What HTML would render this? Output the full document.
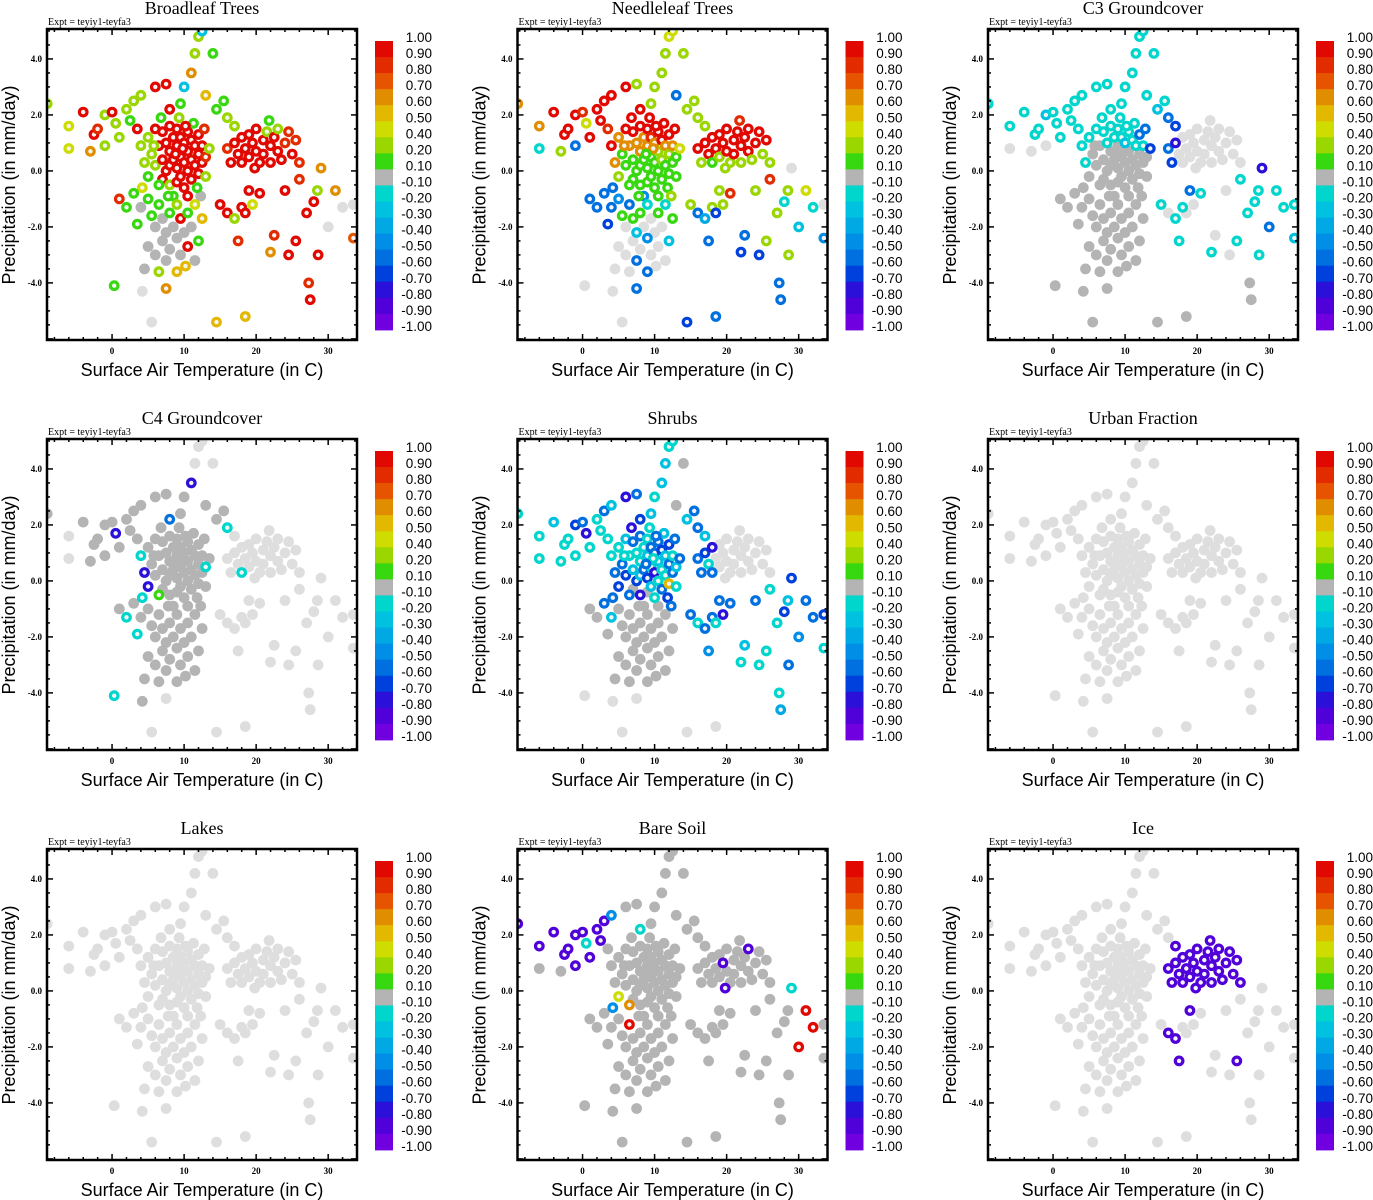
<!DOCTYPE html>
<html><head><meta charset="utf-8">
<style>
html,body{margin:0;padding:0;background:#fff;}
svg{display:block;}
</style></head>
<body>
<svg id="chart" width="1373" height="1200" xmlns="http://www.w3.org/2000/svg"></svg>
<script>
const N = null;
// shared sample locations: temperature (C) and precipitation (mm/day)
const temps = [
5,5.5,6,6,6.5,7,7,7,7.5,7.5, 8,8,8,8,8.5,8.5,9,9,9,9, 9.5,9.5,9.5,10,10,10,10.5,10.5,10.5,11, 11,11,11.5,11.5,12,12,12,12.5,12.5,13, 13,4.5,4,6.5,5,13.5,8.5,10.5,3.5,6.8, 9.3,11.3,4.2,12.8,7.8,5.8,10.2,11.8,9.8,8.8,
16,16.5,17,17.5,18,18,18.5,19,19,19.5, 20,20,20.5,21,21,21.5,22,22,22.5,23, 23,23.5,24,24.5,25,25.5,26,17,21.8,19.8,
3,4,5,5.5,6,6.5,7,7,7.5,8, 8,8.5,9,9,9.5,9.5,10,10.5,10.5,11, 11.5,11.5,12,12.5,6,5,4.5,7.5,9,3.5, 2,10.2,12.3,1,6.5,
-9,-6,-6,-4,-2.5,-2,-1,0,-1,0.5, 1,2,3,4,2.5,6,7.5,9.5,10,11, 11.5,12,12.5,14,13,14.5,15.5,16,-3,8,
15,16,17,17.5,18,18.5,19,19.5,20.5,22, 22.5,24,24.5,25.5,26,27,27.3,27.5,28,28.5, 28.6,29,30,31,32,33.5,33.5,18.5,14.5,5.5, 0.3,4.2,7.5
];
const precips = [
1.2,0.6,1.5,0.2,0.9,1.4,0.4,-0.3,1.0,0.0, 1.6,0.7,0.2,-0.5,1.2,0.4,1.5,0.9,0.1,-0.4, 1.2,0.5,-0.2,1.0,0.3,-0.6,1.4,0.7,0.0,1.1, 0.4,-0.3,0.9,0.2,1.3,0.6,-0.1,0.9,0.3,0.5, -0.2,0.3,0.9,-0.5,-0.2,0.8,-0.9,-0.9,1.5,1.9, 1.9,1.7,-0.6,1.5,-0.9,0.9,1.6,-0.6,0.8,0.6,
0.8,0.3,1.0,0.6,1.2,0.3,0.8,1.3,0.5,1.0, 0.7,1.5,0.3,1.1,0.6,1.4,0.9,0.3,1.2,0.7, 1.5,0.4,1.0,1.4,0.6,1.1,0.3,1.6,1.8,0.1,
-0.8,-1.3,-1.0,-1.6,-2.0,-1.2,-1.7,-2.5,-2.2,-1.5, -2.8,-2.0,-1.2,-2.4,-1.7,-3.0,-2.2,-1.5,-2.7,-2.0, -1.2,-3.2,-2.5,-1.7,-3.0,-2.7,-3.5,-3.2,-3.6,-1.9, -1.3,-3.4,-0.9,-1.0,-3.6,
2.4,1.6,0.8,2.1,1.3,1.5,2.0,2.1,0.9,1.7, 1.2,2.2,2.5,2.7,1.8,3.0,3.1,2.4,3.0,3.5, 4.2,4.8,5.0,4.2,2.7,2.2,2.5,1.9,0.7,2.2,
-1.2,-1.5,-1.7,-2.5,-1.3,-1.5,-0.7,-1.2,-0.8,-2.9, -2.3,-0.7,-3.0,-2.5,-0.3,-1.5,-4.0,-4.6,-1.1,-0.7, -3.0,0.1,-2.0,-0.7,-1.3,-1.2,-2.4,-5.2,-5.4,-5.4, -4.1,-4.3,-4.2
];
const broadleafVals = [
0.2,0.2,0.9,0.2,0.9,0.9,0.9,0.9,0.9,0.9, 0.9,0.9,0.9,0.2,0.9,0.9,0.9,0.9,0.9,0.9, 0.9,0.9,0.9,0.9,0.9,0.9,0.9,0.9,0.9,0.9, 0.9,0.9,0.9,0.9,0.9,0.9,0.9,0.9,0.9,0.8, 0.2,0.2,0.2,0.1,0.1,0.2,0.1,0.9,0.9,0.1, 0.2,0.1,0.4,0.8,0.1,0.2,0.9,0.1,0.9,0.9,
0.8,0.9,0.9,0.9,0.9,0.9,0.9,0.9,0.9,0.9, 0.9,0.9,0.9,0.9,0.9,0.2,0.9,0.9,0.9,0.9, 0.2,0.9,0.8,0.8,0.9,0.8,0.8,0.2,0.1,0.9,
0.1,0,0.1,0.1,0,0.1,0,0,0,0.1, 0,0,0.2,0,0.9,0,0,0.1,0.9,0, 0.4,0,0.1,0.5,0,0,0,0,0.5,0.1, 0.1,0.5,0,0.8,0.2,
0.2,0.4,0.4,0.9,0.9,0.8,0.2,0.9,0.2,0.2, 0.2,0.2,0.2,0.2,0.1,0.9,0.9,0.1,-0.3,0.6, 0.2,0.2,-0.3,0.1,0.5,0.1,0.1,0.2,0.6,0.9,
0.9,0.9,0.2,0.8,0.9,0.9,0.9,0.4,0.9,0.6, 0.8,0.9,0.9,0.9,0.8,0.9,0.8,0.9,0.9,0.2, 0.9,0.6,N,0.6,N,N,0.7,0.5,0.5,N, 0.1,N,0.6
];
const needleleafVals = [
0.6,0.1,0.9,0.1,0.6,0.9,0.1,0.1,0.6,0.1, 0.9,0.6,0.1,0.1,0.6,0.1,0.9,0.6,0.1,0.1, 0.8,0.1,0.1,0.6,0.1,0.1,0.9,0.2,0.1,0.9, 0.2,0.1,0.6,0.1,0.9,0.2,0.1,0.6,0.1,0.1, 0.1,0.6,0.9,0.1,0.2,0.4,-0.5,0.1,0.8,0.9, 0.9,0.9,-0.6,0.9,0.1,0.6,0.9,0.1,0.6,0.1,
0.9,0.2,0.9,0.9,0.9,0.1,0.9,0.9,0.2,0.9, 0.9,0.9,0.2,0.9,0.9,0.9,0.9,0.2,0.9,0.9, 0.9,0.2,0.9,0.9,0.2,0.9,0.2,0.2,0.8,0.2,
-0.6,-0.6,-0.5,0.1,N,-0.6,0.1,N,-0.3,0.1, N,N,-0.2,-0.5,N,N,N,0.1,N,N, -0.2,N,-0.3,0.1,N,N,N,-0.6,-0.6,-0.7, -0.6,N,0.2,-0.6,N,
0.6,0.6,-0.2,0.9,0.9,0.9,0.9,0.8,-0.6,0.4, 0.9,0.9,0.9,0.9,0.9,0.9,0.2,0.2,0.2,0.2, 0.2,0.4,0.4,0.2,-0.6,0.2,0.2,0.2,0.2,0.9,
0.2,-0.6,-0.4,-0.6,0.2,-0.7,0.2,0.2,0.8,-0.7, -0.6,0.2,-0.7,0.2,0.8,0.2,-0.6,-0.6,-0.2,0.2, 0.2,N,-0.3,0.4,-0.2,N,-0.5,-0.6,-0.7,N, N,N,-0.6
];
const c3Vals = [
-0.2,0,-0.2,0,0,-0.2,0,0,-0.2,0, -0.2,0,0,0,-0.2,0,-0.2,0,0,0, -0.2,0,0,-0.3,0,0,-0.2,0,0,-0.2, 0,0,-0.2,0,-0.6,0,0,-0.2,0,0, 0,-0.2,-0.2,0,0,-0.7,0,0,-0.2,-0.2, -0.2,-0.2,0,-0.6,0,0,-0.2,0,0,0,
-0.6,-0.7,-0.8,N,N,N,N,N,N,N, N,N,N,N,N,N,N,N,N,N, N,N,N,N,N,N,N,-0.7,N,N,
0,0,0,0,0,0,0,0,0,0, 0,0,0,0,0,0,0,0,0,0, 0,0,0,0,0,0,0,0,0,0, 0,0,0,0,0,
-0.2,-0.2,N,-0.2,-0.2,-0.2,-0.3,-0.2,N,-0.2, -0.2,-0.2,-0.2,-0.2,-0.2,-0.2,-0.2,-0.2,-0.2,-0.2, -0.2,-0.2,-0.2,-0.2,-0.2,-0.3,-0.2,-0.6,N,-0.2,
-0.2,N,-0.2,-0.2,-0.2,N,-0.6,N,-0.2,-0.2, N,N,N,-0.2,-0.2,-0.2,0,0,-0.2,-0.2, -0.2,-0.8,-0.6,-0.2,-0.2,-0.2,-0.3,0,0,0, 0,0,0
];
const c4Vals = [
0,0,0,0,0,0,0,0,0,0, 0,0,0,0,0,0,0,0,0,0, 0,0,0,0,0,0,0,0,0,0, 0,0,0,0,0,0,0,0,0,-0.2, 0,-0.8,-0.2,0.1,-0.8,0,0,0,0,0, 0,0,-0.2,0,0,0,0,0,0,0,
N,N,N,N,N,-0.2,N,N,N,N, N,N,N,N,N,N,N,N,N,N, N,N,N,N,N,N,N,N,N,N,
0,0,0,0,0,0,0,0,0,0, 0,0,0,0,0,0,0,0,0,0, 0,0,0,0,0,0,0,0,0,-0.2, -0.2,0,0,0,0,
0,N,N,0,0,0,0,0,0,-0.8, 0,0,0,0,0,0,0,0,0,-0.8, N,N,N,N,0,0,0,-0.2,0,-0.6,
N,N,N,N,N,N,N,N,N,N, N,N,N,N,N,N,N,N,N,N, N,N,N,N,N,N,N,N,N,N, -0.2,0,N
];
const shrubVals = [
-0.2,-0.6,-0.3,-0.7,-0.2,-0.6,-0.3,0,-0.2,-0.7, -0.6,-0.2,-0.3,-0.8,-0.2,-0.6,-0.2,-0.3,-0.7,0, -0.6,-0.2,-0.3,-0.6,-0.8,-0.2,-0.6,-0.3,-0.2,-0.7, -0.2,-0.6,-0.3,-0.2,-0.7,-0.6,0.5,-0.2,-0.6,-0.3, -0.2,-0.6,-0.2,-0.6,-0.7,-0.6,0,0,-0.2,-0.8, -0.2,-0.3,-0.6,-0.6,0,-0.2,-0.6,-0.7,-0.2,-0.6,
-0.6,-0.6,-0.7,-0.2,-0.8,-0.6,N,N,N,N, N,N,N,N,N,N,N,N,N,N, N,N,N,N,N,N,N,-0.3,N,N,
-0.6,-0.3,0,0,0,0,0,0,0,0, 0,0,0,0,0,0,0,0,0,0, 0,0,0,0,0,0,0,0,0,0, 0,0,-0.6,0,0,
-0.2,-0.2,-0.2,-0.3,-0.2,-0.2,-0.7,-0.6,-0.2,-0.8, -0.2,-0.2,-0.6,-0.3,-0.2,-0.8,-0.6,-0.3,-0.2,-0.3, -0.3,-0.2,-0.2,0,0,-0.3,-0.6,-0.6,-0.2,-0.7,
-0.6,-0.2,-0.6,-0.5,-0.6,-0.2,-0.6,-0.8,-0.6,-0.2, -0.3,-0.6,-0.2,-0.2,-0.2,-0.2,-0.2,-0.4,-0.7,-0.3, -0.6,-0.7,-0.5,-0.6,-0.6,-0.7,-0.2,N,N,N, N,N,N
];
const urbanVals = [];
const lakeVals = [];
const bareSoilVals = [
0,0,0,0,0,0,0,0,0,0, 0,0,0,0,0,0,0,0,0,0, 0,0,0,0,0,0,0,0,0,0, 0,0,0,0,0,0,0,0,0,0, 0,0,0,0.6,0.4,0,0,0,0,0, 0,0,-0.5,0,0,0,0,0,0,0,
0,0,0,0,0,0,0,0,0,-0.9, 0,0,0,0,0,0,0,0,0,0, -0.9,0,0,0,0,0,0,0,0,-0.9,
0,0,0,0,0,0.9,0,0,0,0, 0,0,0,0,0,0,0,0,0,0, 0,0,0,0,0,0,0,0,0,0, 0,0,0,0,0,
-0.9,-0.9,0,-0.9,-0.9,-0.9,-0.9,-0.9,-0.9,-0.2, -0.9,-0.9,-0.9,-0.5,-0.9,0,0,0,0,0, 0,0,0,0,0,0,0,0,0,-0.2,
0,0,0,0,0,0,0,0,0,0, 0,0,0,0,0,0,0,0,0,0, 0,-0.2,0.9,0.9,0.9,0,0,0,0,0, 0,0,0
];
const iceVals = [
N,N,N,N,N,N,N,N,N,N, N,N,N,N,N,N,N,N,N,N, N,N,N,N,N,N,N,N,N,N, N,N,N,N,N,N,N,N,N,N, N,N,N,N,N,N,N,N,N,N, N,N,N,N,N,N,N,N,N,N,
-0.9,-0.9,-0.9,-0.9,-0.9,-0.9,-0.9,-0.9,-0.9,-0.9, -0.9,-0.9,-0.9,-0.9,-0.9,-0.9,-0.9,-0.9,-0.9,-0.9, -0.9,-0.9,-0.9,-0.9,-0.9,-0.9,-0.9,-0.9,-0.9,-0.9,
N,N,N,N,N,N,N,N,N,N, N,N,N,N,N,N,N,N,N,N, N,N,N,N,N,N,N,N,N,N, N,N,N,N,N,
N,N,N,N,N,N,N,N,N,N, N,N,N,N,N,N,N,N,N,N, N,N,N,N,N,N,N,N,N,N,
N,-0.9,-0.9,-0.9,N,N,-0.9,N,N,N, N,N,N,-0.9,N,N,N,N,N,N, N,N,N,N,N,N,N,N,N,N, N,N,N
];
const panelTitles = ["Broadleaf Trees","Needleleaf Trees","C3 Groundcover","C4 Groundcover","Shrubs","Urban Fraction","Lakes","Bare Soil","Ice"];
const panelNames = ["broadleaf","needleleaf","c3","c4","shrubs","urban","lakes","bare-soil","ice"];
const panelVals = [broadleafVals,needleleafVals,c3Vals,c4Vals,shrubVals,urbanVals,lakeVals,bareSoilVals,iceVals];
const xTicks = [0,10,20,30];
const yTicks = [4,2,0,-2,-4];
const cbLabels = ["1.00","0.90","0.80","0.70","0.60","0.50","0.40","0.20","0.10","-0.10","-0.20","-0.30","-0.40","-0.50","-0.60","-0.70","-0.80","-0.90","-1.00"];
const cbColors = ["#e00800","#e22c00","#e65400","#e08e00","#e2b800","#cedc00","#9ad600","#38d810","#b4b4b4","#00d6cc","#00c2e0","#00a8e4","#008ee6","#0070e0","#0040dc","#2a10d8","#5000d8","#7000e0"];

const svg = document.getElementById('chart');
const NS = 'http://www.w3.org/2000/svg';
function mk(tag, attrs, parent){const e=document.createElementNS(NS,tag);for(const k in attrs)e.setAttribute(k,attrs[k]);(parent||svg).appendChild(e);return e;}
function colorFor(v){
  if(v===null||v===undefined) return '#dedede';
  if(v>=0.1){ const b=[0.9,0.8,0.7,0.6,0.5,0.4,0.2,0.1]; for(let i=0;i<b.length;i++) if(v>=b[i]-1e-9) return cbColors[i]; }
  if(v>-0.1) return cbColors[8];
  const nb=[-0.2,-0.3,-0.4,-0.5,-0.6,-0.7,-0.8,-0.9]; for(let i=0;i<nb.length;i++) if(v>=nb[i]-1e-9) return cbColors[9+i];
  return cbColors[17];
}
const PW=310, PH=311, XMIN=-9.03, XMAX=34, YMAX=5.07, YMIN=-6.04;
for(let p=0;p<9;p++){
  const col=p%3,row=Math.floor(p/3);
  const L=47+col*470.5, T=29+row*410;
  const xs=t=>L+(t-XMIN)/(XMAX-XMIN)*PW;
  const ys=v=>T+(YMAX-v)/(YMAX-YMIN)*PH;
  const g=mk('g',{});
  
  
  const title=mk('text',{x:L+PW/2,y:T-15,'text-anchor':'middle','font-family':'Liberation Serif, serif','font-size':'18'},g);
  title.textContent=panelTitles[p];
  
  
  const ex=mk('text',{x:L+1,y:T-4,'font-family':'Liberation Serif, serif','font-size':'10'},g);
  ex.textContent='Expt = teyiy1-teyfa3';
  
  
  const vals=panelVals[p];
  const clip='clip'+p;
  const cp=mk('clipPath',{id:clip},g); mk('rect',{x:L,y:T,width:PW,height:PH},cp);
  const pg=mk('g',{'clip-path':'url(#'+clip+')'},g);
  const order=[];
  for(let i=0;i<temps.length;i++){const v=vals[i];const k=(v===null||v===undefined)?0:(Math.abs(v)<0.1?1:2);order.push([k,i]);}
  order.sort((a,b)=>a[0]-b[0]);
  for(const [k,i] of order){
    const c=colorFor(vals[i]);
    const pt=mk('circle',{cx:xs(temps[i]).toFixed(1),cy:ys(precips[i]).toFixed(1),r:3.8,fill:k===2?'#f4f4f4':c,stroke:c,'stroke-width':3.2},pg);
    
    
  }
  const fr=mk('rect',{x:L,y:T,width:PW,height:PH,fill:'none',stroke:'#000','stroke-width':2.5},g);
  
  
  for(let t=-8;t<=34;t+=2){const x=xs(t);const maj=t%10===0;const len=maj?6:3;
    mk('line',{x1:x,y1:T+PH,x2:x,y2:T+PH-len,stroke:'#000','stroke-width':1.5},g);
    mk('line',{x1:x,y1:T,x2:x,y2:T+len,stroke:'#000','stroke-width':1.5},g);}
  for(let v=-6;v<=5;v+=0.5){const y=ys(v);const maj=Math.abs(v%2)<1e-9;const len=maj?6:3;
    mk('line',{x1:L,y1:y,x2:L+len,y2:y,stroke:'#000','stroke-width':1.5},g);
    mk('line',{x1:L+PW,y1:y,x2:L+PW-len,y2:y,stroke:'#000','stroke-width':1.5},g);}
  for(const t of xTicks){const tl=mk('text',{x:xs(t),y:T+PH+14,'text-anchor':'middle','font-family':'Liberation Serif, serif','font-size':'9','font-weight':'bold'},g);tl.textContent=String(t);
    
    }
  for(const v of yTicks){const tl=mk('text',{x:L-5,y:ys(v)+3,'text-anchor':'end','font-family':'Liberation Serif, serif','font-size':'9','font-weight':'bold'},g);tl.textContent=v.toFixed(1);
    
    }
  const xt=mk('text',{x:L+PW/2,y:T+PH+36,'text-anchor':'middle','font-family':'Liberation Sans, sans-serif','font-size':'18'},g);
  xt.textContent='Surface Air Temperature (in C)';
  
  
  const yt=mk('text',{x:0,y:0,'text-anchor':'middle','font-family':'Liberation Sans, sans-serif','font-size':'18',transform:`translate(${L-32},${T+156}) rotate(-90)`},g);
  yt.textContent='Precipitation (in mm/day)';
  
  
  const cx=L+328, cy=T+12, sh=16.05;
  const cb=mk('g',{},g);
  
  
  for(let i=0;i<cbColors.length;i++){const r=mk('rect',{x:cx,y:cy+i*sh,width:18,height:sh+0.5,fill:cbColors[i]},cb);
    
    }
  for(let i=0;i<cbLabels.length;i++){const tl=mk('text',{x:cx+57,y:cy+i*sh+1,'text-anchor':'end','font-family':'Liberation Sans, sans-serif','font-size':'13.5'},cb);tl.textContent=cbLabels[i];
    
    }
}
</script>
</body></html>
